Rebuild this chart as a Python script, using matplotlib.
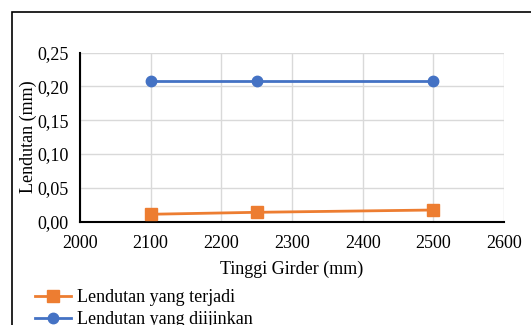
import matplotlib
matplotlib.use("Agg")
import matplotlib.pyplot as plt
from matplotlib.patches import Rectangle
from matplotlib.ticker import FuncFormatter

# Girder height vs deflection
tinggi_girder = [2100, 2250, 2500]
lendutan_terjadi = [0.0107, 0.0136, 0.0170]
lendutan_diijinkan = [0.208, 0.208, 0.208]

x_ticks = [2000, 2100, 2200, 2300, 2400, 2500, 2600]
y_ticks = [0.00, 0.05, 0.10, 0.15, 0.20, 0.25]

ORANGE = "#ED7D31"
BLUE = "#4472C4"

plt.rcParams["font.family"] = ["Liberation Serif", "DejaVu Serif"]
FS = 13

W, H = 531, 325
fig = plt.figure(figsize=(W / 100, H / 100), dpi=100)

# plot area in pixel coordinates
left, right, top, bottom = 80, 504, 52.5, 221.5
ax = fig.add_axes([left / W, 1 - bottom / H, (right - left) / W, (bottom - top) / H])

ax.plot(tinggi_girder, lendutan_terjadi, color=ORANGE, lw=2.0, marker="s",
        ms=8.5, label="Lendutan yang terjadi", zorder=3, clip_on=False)
ax.plot(tinggi_girder, lendutan_diijinkan, color=BLUE, lw=2.0, marker="o",
        ms=7.5, label="Lendutan yang diijinkan", zorder=3, clip_on=False)

ax.set_xlim(2000, 2600)
ax.set_ylim(0, 0.25)
ax.set_xticks(x_ticks)
ax.set_yticks(y_ticks)
ax.yaxis.set_major_formatter(FuncFormatter(lambda v, p: f"{v:.2f}".replace(".", ",")))
ax.grid(True, color="#D9D9D9", lw=1.0)
ax.set_axisbelow(True)
for s in ["top", "right"]:
    ax.spines[s].set_visible(False)
for s in ["left", "bottom"]:
    ax.spines[s].set_linewidth(1.5)
    ax.spines[s].set_color("black")
ax.tick_params(length=0, labelsize=FS, pad=8)
ax.tick_params(axis="x", pad=10)

ax.set_xlabel("Tinggi Girder (mm)", fontsize=FS, labelpad=6)
ax.set_ylabel("Lendutan (mm)", fontsize=FS, va="center")
ax.yaxis.set_label_coords((28 - left) / (right - left), 0.5)

# chart border
fig.patches.append(Rectangle((12 / W, -0.1), 2, (1 - 12 / H) + 0.1, transform=fig.transFigure,
                             fill=False, edgecolor="black", lw=1.2))

fig.legend(loc="upper left", bbox_to_anchor=(35 / W, 1 - 289 / H), frameon=False,
           fontsize=FS, handlelength=2.0, handletextpad=0.3, labelspacing=0.3,
           borderpad=0, borderaxespad=0)

fig.savefig("out.png", dpi=100)
